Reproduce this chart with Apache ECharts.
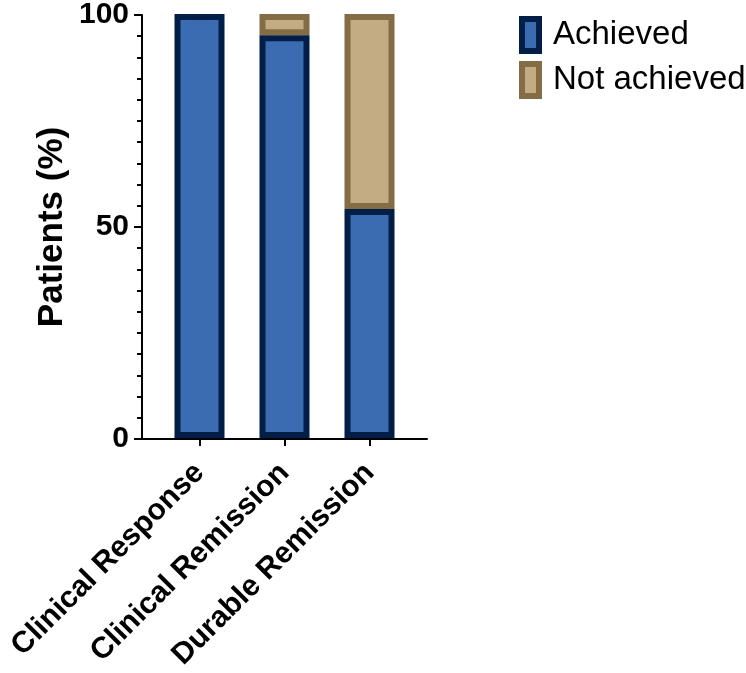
<!DOCTYPE html>
<html>
<head>
<meta charset="utf-8">
<script src="https://cdn.jsdelivr.net/npm/echarts@6/dist/echarts.min.js"></script>
<style>
  html, body { margin: 0; padding: 0; background: #fff; }
  #chart { width: 746px; height: 673px; }
</style>
</head>
<body>
<div id="chart"></div>
<script>
// values
var categories = ["Clinical Response", "Clinical Remission", "Durable Remission"];
var achieved = [100, 95, 54];
var notAchieved = [0, 5, 46];
var yTicks = [0, 50, 100];

var font = "'Liberation Sans', Arial, sans-serif";

var chart = echarts.init(document.getElementById("chart"));

// a zero-height stacked bar would still show its border, so leave it out
function dropZeros(arr) {
  return arr.map(function (v) { return v === 0 ? null : v; });
}

var option = {
  animation: false,
  legend: {
    orient: "vertical",
    left: 514,
    top: 11,
    icon: "rect",
    itemWidth: 17,
    itemHeight: 32,
    itemGap: 7,
    itemStyle: { borderWidth: 6 },
    textStyle: {
      fontFamily: font,
      fontSize: 33,
      color: "#000",
      padding: [0, 0, 0, 9]
    },
    data: ["Achieved", "Not achieved"]
  },
  grid: [
    // bars
    { left: 157, width: 255, top: 14, bottom: 234 },
    // axis frame
    { left: 142, width: 285, top: 14, bottom: 234 }
  ],
  xAxis: [
    {
      gridIndex: 0,
      type: "category",
      data: categories,
      axisLine: { show: false },
      axisTick: {
        show: true,
        alignWithLabel: true,
        length: 8,
        lineStyle: { color: "#000", width: 2 }
      },
      axisLabel: {
        rotate: 45,
        margin: 30,
        fontFamily: font,
        fontSize: 30,
        fontWeight: "bold",
        color: "#000"
      }
    },
    {
      gridIndex: 1,
      type: "value",
      min: 0,
      max: 1,
      axisLine: { show: true, lineStyle: { color: "#000", width: 2 } },
      axisTick: { show: false },
      axisLabel: { show: false },
      splitLine: { show: false }
    }
  ],
  yAxis: [
    {
      gridIndex: 0,
      type: "value",
      min: 0,
      max: 100,
      show: false
    },
    {
      gridIndex: 1,
      type: "value",
      min: yTicks[0],
      max: yTicks[yTicks.length - 1],
      interval: yTicks[1] - yTicks[0],
      name: "Patients (%)",
      nameLocation: "middle",
      nameRotate: 90,
      nameGap: 72,
      nameTextStyle: {
        fontFamily: font,
        fontSize: 35,
        fontWeight: "bold",
        color: "#000"
      },
      axisLine: { show: true, lineStyle: { color: "#000", width: 2 } },
      axisTick: { show: true, length: 8, lineStyle: { color: "#000", width: 2 } },
      minorTick: { show: true, splitNumber: 10, length: 5, lineStyle: { color: "#000", width: 2 } },
      axisLabel: {
        margin: 13,
        fontFamily: font,
        fontSize: 30,
        fontWeight: "bold",
        color: "#000"
      },
      splitLine: { show: false }
    }
  ],
  series: [
    {
      name: "Achieved",
      type: "bar",
      xAxisIndex: 0,
      yAxisIndex: 0,
      stack: "total",
      barWidth: 50,
      z: 3,
      itemStyle: { color: "#3B6CB2", borderColor: "#001E46", borderWidth: 6 },
      data: achieved
    },
    {
      name: "Not achieved",
      type: "bar",
      xAxisIndex: 0,
      yAxisIndex: 0,
      stack: "total",
      barWidth: 50,
      z: 2,
      itemStyle: { color: "#C3AB83", borderColor: "#846D45", borderWidth: 6 },
      data: dropZeros(notAchieved)
    }
  ]
};

chart.setOption(option);
</script>
</body>
</html>
